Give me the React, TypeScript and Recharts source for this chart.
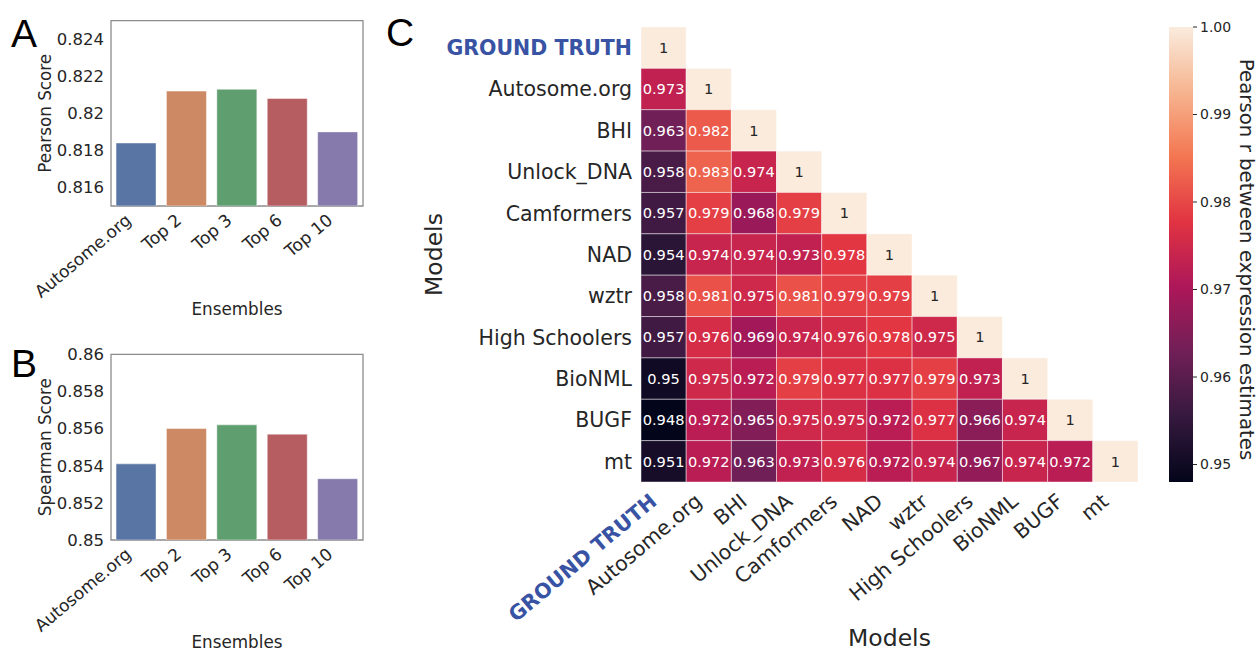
import {
  BarChart,
  Bar,
  Cell,
  XAxis,
  YAxis,
  ReferenceArea,
  ScatterChart,
  Scatter,
} from "recharts";

// ensemble bar panels (A, B)
const ensembles = ["Autosome.org", "Top 2", "Top 3", "Top 6", "Top 10"];
const pearsonScores = [0.8184, 0.8212, 0.8213, 0.8208, 0.819];
const spearmanScores = [0.8541, 0.856, 0.8562, 0.8557, 0.8533];
const barColors = ["#5975a4", "#cc8963", "#5f9e6e", "#b55d60", "#857aab"];
const pearsonTicks = [0.816, 0.818, 0.82, 0.822, 0.824];
const spearmanTicks = [0.85, 0.852, 0.854, 0.856, 0.858, 0.86];

// correlation heatmap (C), lower triangle incl. diagonal
const models = [
  "GROUND TRUTH",
  "Autosome.org",
  "BHI",
  "Unlock_DNA",
  "Camformers",
  "NAD",
  "wztr",
  "High Schoolers",
  "BioNML",
  "BUGF",
  "mt",
];
const corr: number[][] = [
  [1],
  [0.973, 1],
  [0.963, 0.982, 1],
  [0.958, 0.983, 0.974, 1],
  [0.957, 0.979, 0.968, 0.979, 1],
  [0.954, 0.974, 0.974, 0.973, 0.978, 1],
  [0.958, 0.981, 0.975, 0.981, 0.979, 0.979, 1],
  [0.957, 0.976, 0.969, 0.974, 0.976, 0.978, 0.975, 1],
  [0.95, 0.975, 0.972, 0.979, 0.977, 0.977, 0.979, 0.973, 1],
  [0.948, 0.972, 0.965, 0.975, 0.975, 0.972, 0.977, 0.966, 0.974, 1],
  [0.951, 0.972, 0.963, 0.973, 0.976, 0.972, 0.974, 0.967, 0.974, 0.972, 1],
];
const cbarTicks = [0.95, 0.96, 0.97, 0.98, 0.99, 1.0];
const CMIN = 0.948;
const CMAX = 1.0;

// seaborn "rocket" colormap, sampled
const rocketStops: [number, string][] = [
  [0, "#03051a"],
  [1 / 7, "#35193e"],
  [2 / 7, "#701f57"],
  [3 / 7, "#ad1759"],
  [4 / 7, "#e13342"],
  [5 / 7, "#f37651"],
  [6 / 7, "#f6b48f"],
  [1, "#faebdd"],
];

const FONT = "DejaVu Sans";
const INK = "#262626";
const FRAME = "#8c8c8c";
const GT_BLUE = "#3953a4";
const LABEL_ANGLE = 40;

const N = models.length;
const HM_W = 780;
const HM_H = 652;
const HM_MARGIN = { top: 27, right: 22, left: 0, bottom: 0 };
const HM_YAXIS_W = 261;
const HM_XAXIS_H = 170;
const CELL_W = (HM_W - HM_MARGIN.left - HM_MARGIN.right - HM_YAXIS_W) / N;
const CELL_H = (HM_H - HM_MARGIN.top - HM_XAXIS_H) / N;

function hexToRgb(h: string) {
  const n = parseInt(h.slice(1), 16);
  return [(n >> 16) & 255, (n >> 8) & 255, n & 255];
}

function rocket(t: number) {
  const c = Math.max(0, Math.min(1, t));
  for (let i = 1; i < rocketStops.length; i++) {
    const [t1, h1] = rocketStops[i];
    const [t0, h0] = rocketStops[i - 1];
    if (c <= t1) {
      const f = (c - t0) / (t1 - t0);
      const a = hexToRgb(h0);
      const b = hexToRgb(h1);
      return a.map((v, k) => Math.round(v + (b[k] - v) * f));
    }
  }
  return hexToRgb(rocketStops[rocketStops.length - 1][1]);
}

function luminance(rgb: number[]) {
  const lin = rgb.map((v) => {
    const s = v / 255;
    return s <= 0.03928 ? s / 12.92 : Math.pow((s + 0.055) / 1.055, 2.4);
  });
  return 0.2126 * lin[0] + 0.7152 * lin[1] + 0.0722 * lin[2];
}

const rgbStr = (c: number[]) => `rgb(${c[0]},${c[1]},${c[2]})`;

const pearsonData = ensembles.map((name, i) => ({ name, value: pearsonScores[i] }));
const spearmanData = ensembles.map((name, i) => ({ name, value: spearmanScores[i] }));

const cells = corr.flatMap((row, i) =>
  row.map((value, j) => ({ col: j + 0.5, row: i + 0.5, value }))
);
const centerTicks = models.map((_, i) => i + 0.5);

const fmt = (v: number) => String(Number(v.toFixed(3)));

// rotated category label, baseline end placed just below the tick
function RotatedTick(props: any) {
  const { x, y, label, fontSize, dx, drop, fill, weight } = props;
  const bx = x + dx;
  const by = y + drop;
  return (
    <text
      x={bx}
      y={by}
      textAnchor="end"
      transform={`rotate(-${LABEL_ANGLE} ${bx} ${by})`}
      fontFamily={FONT}
      fontSize={fontSize}
      fontWeight={weight}
      fill={fill}
    >
      {label}
    </text>
  );
}

function HeatCell(props: any) {
  const { cx, cy, payload } = props;
  const col = rocket((payload.value - CMIN) / (CMAX - CMIN));
  const textFill = luminance(col) > 0.408 ? INK : "#ffffff";
  return (
    <g>
      <rect
        x={cx - CELL_W / 2}
        y={cy - CELL_H / 2}
        width={CELL_W}
        height={CELL_H}
        fill={rgbStr(col)}
        stroke="rgba(255,255,255,0.45)"
        strokeWidth={1}
      />
      <text
        x={cx}
        y={cy}
        dy="0.36em"
        textAnchor="middle"
        fontFamily={FONT}
        fontSize={14.6}
        fill={textFill}
      >
        {String(payload.value)}
      </text>
    </g>
  );
}

function ModelYTick(props: any) {
  const { x, y, payload } = props;
  const idx = Math.floor(payload.value);
  const gt = idx === 0;
  return (
    <text
      x={x - 9}
      y={y}
      dy="0.36em"
      textAnchor="end"
      fontFamily={FONT}
      fontSize={20.5}
      fontWeight={gt ? "bold" : "normal"}
      fill={gt ? GT_BLUE : INK}
    >
      {models[idx]}
    </text>
  );
}

function ModelXTick(props: any) {
  const { x, y, payload } = props;
  const idx = Math.floor(payload.value);
  const gt = idx === 0;
  return (
    <RotatedTick
      x={x}
      y={y}
      label={models[idx]}
      fontSize={20.5}
      dx={-5.5}
      drop={21.5}
      fill={gt ? GT_BLUE : INK}
      weight={gt ? "bold" : "normal"}
    />
  );
}

function ScorePanel({
  data,
  domain,
  ticks,
  yTitle,
  height,
  top,
  xAxisH,
  titleDrop,
}: {
  data: { name: string; value: number }[];
  domain: [number, number];
  ticks: number[];
  yTitle: string;
  height: number;
  top: number;
  xAxisH: number;
  titleDrop: number;
}) {
  return (
    <BarChart
      width={380}
      height={height}
      data={data}
      margin={{ top, right: 17, left: 0, bottom: 0 }}
      barCategoryGap="10%"
    >
      <XAxis
        dataKey="name"
        height={xAxisH}
        interval={0}
        axisLine={false}
        tickLine={false}
        tickSize={0}
        tickMargin={0}
        tick={(p: any) => (
          <RotatedTick
            x={p.x}
            y={p.y}
            label={p.payload.value}
            fontSize={17}
            dx={-4}
            drop={16}
            fill={INK}
            weight="normal"
          />
        )}
        label={(p: any) => (
          <text
            x={p.viewBox.x + p.viewBox.width / 2}
            y={p.viewBox.y + titleDrop}
            textAnchor="middle"
            fontFamily={FONT}
            fontSize={16.8}
            fill={INK}
          >
            Ensembles
          </text>
        )}
      />
      <YAxis
        width={111}
        domain={domain}
        ticks={ticks}
        allowDataOverflow
        axisLine={false}
        tickLine={false}
        tickSize={0}
        tickMargin={7}
        tickFormatter={fmt}
        tick={{ fontFamily: FONT, fontSize: 16.5, fill: INK }}
        label={(p: any) => {
          const cx = p.viewBox.x + 51.5;
          const cy = p.viewBox.y + p.viewBox.height / 2;
          return (
            <text
              x={cx}
              y={cy}
              textAnchor="middle"
              transform={`rotate(-90 ${cx} ${cy})`}
              fontFamily={FONT}
              fontSize={16.8}
              fill={INK}
            >
              {yTitle}
            </text>
          );
        }}
      />
      <Bar dataKey="value" isAnimationActive={false} stroke="#ffffff" strokeOpacity={0.45} strokeWidth={1}>
        {data.map((d, i) => (
          <Cell key={d.name} fill={barColors[i]} />
        ))}
      </Bar>
      {/* axes frame */}
      <ReferenceArea
        x1={data[0].name}
        x2={data[data.length - 1].name}
        y1={domain[0]}
        y2={domain[1]}
        fill="none"
        fillOpacity={0}
        stroke={FRAME}
        strokeWidth={1.3}
        strokeOpacity={1}
        ifOverflow="visible"
      />
    </BarChart>
  );
}

export default function App() {
  return (
    <div
      style={{
        position: "absolute",
        left: 0,
        top: 0,
        width: 1259,
        height: 652,
        background: "#ffffff",
        fontFamily: FONT,
        overflow: "hidden",
      }}
    >
      <div style={{ position: "absolute", left: 0, top: 0 }}>
        <ScorePanel
          data={pearsonData}
          domain={[0.815, 0.825]}
          ticks={pearsonTicks}
          yTitle="Pearson Score"
          height={320}
          top={20.7}
          xAxisH={114}
          titleDrop={109}
        />
      </div>
      <div style={{ position: "absolute", left: 0, top: 320 }}>
        <ScorePanel
          data={spearmanData}
          domain={[0.85, 0.86]}
          ticks={spearmanTicks}
          yTitle="Spearman Score"
          height={332}
          top={34.3}
          xAxisH={112}
          titleDrop={108}
        />
      </div>

      <div style={{ position: "absolute", left: 380, top: 0 }}>
        <ScatterChart width={HM_W} height={HM_H} margin={HM_MARGIN}>
          <XAxis
            type="number"
            dataKey="col"
            domain={[0, N]}
            ticks={centerTicks}
            interval={0}
            height={HM_XAXIS_H}
            axisLine={false}
            tickLine={false}
            tickSize={0}
            tickMargin={0}
            tick={<ModelXTick />}
            label={(p: any) => (
              <text
                x={p.viewBox.x + p.viewBox.width / 2}
                y={p.viewBox.y + 164}
                textAnchor="middle"
                fontFamily={FONT}
                fontSize={23.5}
                fill={INK}
              >
                Models
              </text>
            )}
          />
          <YAxis
            type="number"
            dataKey="row"
            domain={[0, N]}
            reversed
            ticks={centerTicks}
            interval={0}
            width={HM_YAXIS_W}
            axisLine={false}
            tickLine={false}
            tickSize={0}
            tickMargin={0}
            tick={<ModelYTick />}
            label={(p: any) => {
              const cx = p.viewBox.x + 61.5;
              const cy = p.viewBox.y + p.viewBox.height / 2;
              return (
                <text
                  x={cx}
                  y={cy}
                  textAnchor="middle"
                  transform={`rotate(-90 ${cx} ${cy})`}
                  fontFamily={FONT}
                  fontSize={23.5}
                  fill={INK}
                >
                  Models
                </text>
              );
            }}
          />
          <Scatter data={cells} shape={<HeatCell />} isAnimationActive={false} />
        </ScatterChart>
      </div>

      <div style={{ position: "absolute", left: 1160, top: 0 }}>
        <BarChart
          width={99}
          height={652}
          data={[{ name: "cbar", value: CMAX }]}
          margin={{ top: 27, right: 0, left: 9, bottom: 170 }}
          barCategoryGap={0}
        >
          <defs>
            <linearGradient id="rocketGrad" x1="0" y1="0" x2="0" y2="1">
              {rocketStops
                .slice()
                .reverse()
                .map(([t, c]) => (
                  <stop key={t} offset={1 - t} stopColor={c} />
                ))}
            </linearGradient>
          </defs>
          <XAxis dataKey="name" hide />
          <YAxis
            orientation="right"
            width={66}
            domain={[CMIN, CMAX]}
            ticks={cbarTicks}
            allowDataOverflow
            axisLine={false}
            tickSize={4}
            tickMargin={3}
            tickLine={{ stroke: INK, strokeWidth: 1 }}
            tickFormatter={(v: number) => v.toFixed(2)}
            tick={{ fontFamily: FONT, fontSize: 14, fill: INK }}
            label={(p: any) => {
              const cx = p.viewBox.x + 47;
              const cy = p.viewBox.y + p.viewBox.height / 2 + 5;
              return (
                <text
                  x={cx}
                  y={cy}
                  textAnchor="middle"
                  transform={`rotate(90 ${cx} ${cy})`}
                  fontFamily={FONT}
                  fontSize={19.8}
                  fill={INK}
                >
                  Pearson r between expression estimates
                </text>
              );
            }}
          />
          <Bar dataKey="value" fill="url(#rocketGrad)" isAnimationActive={false} />
        </BarChart>
      </div>

      <svg
        width={1259}
        height={652}
        style={{ position: "absolute", left: 0, top: 0, pointerEvents: "none" }}
      >
        <g fontFamily="Liberation Sans" fontSize={39} fill="#000000">
          <text x={11} y={47}>A</text>
          <text x={11} y={377}>B</text>
          <text x={386} y={46}>C</text>
        </g>
      </svg>
    </div>
  );
}
